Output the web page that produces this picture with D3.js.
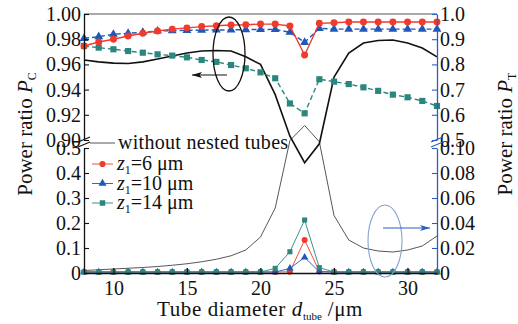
<!DOCTYPE html>
<html>
<head>
<meta charset="utf-8">
<script src="https://cdn.jsdelivr.net/npm/d3@7"></script>
<style>
  body { margin: 0; background: #fff; }
  svg { display: block; font-family: "Liberation Serif", "Times New Roman", serif; }
</style>
</head>
<body>
<svg width="518" height="324"></svg>
<script>

// valores
const tubeDiam = [8, 9, 10, 11, 12, 13, 14, 15, 16, 17, 18, 19, 20, 21, 22, 23, 24, 25, 26, 27, 28, 29, 30, 31, 32];

// painel de cima, P_C (eixo esquerdo)
const pcNone = [0.9635, 0.962, 0.961, 0.9607, 0.962, 0.9643, 0.9667, 0.969, 0.9706, 0.971, 0.9706, 0.966, 0.960, 0.936, 0.903, 0.882, 0.897, 0.950, 0.969, 0.977, 0.979, 0.9794, 0.977, 0.973, 0.966];
const pcZ6 = [0.9746, 0.9778, 0.980, 0.9825, 0.9847, 0.9865, 0.988, 0.989, 0.990, 0.9907, 0.9913, 0.9915, 0.992, 0.992, 0.9905, 0.9675, 0.9926, 0.993, 0.9937, 0.9937, 0.9937, 0.9937, 0.9937, 0.9937, 0.9937];
const pcZ10 = [0.9807, 0.982, 0.9839, 0.9847, 0.9855, 0.9865, 0.9868, 0.987, 0.9872, 0.9873, 0.9874, 0.9876, 0.9877, 0.9878, 0.9855, 0.9775, 0.9886, 0.988, 0.988, 0.988, 0.988, 0.988, 0.988, 0.988, 0.988];
const pcZ14 = [0.9746, 0.9733, 0.972, 0.9706, 0.9693, 0.968, 0.967, 0.9656, 0.9635, 0.962, 0.9595, 0.9569, 0.9537, 0.949, 0.929, 0.9212, 0.9482, 0.9463, 0.9444, 0.9418, 0.939, 0.936, 0.9339, 0.931, 0.927];

// painel de baixo, P_T (eixo direito)
const ptNone = [0.002, 0.0026, 0.0032, 0.0038, 0.0044, 0.0052, 0.0062, 0.0074, 0.009, 0.011, 0.0138, 0.0184, 0.0288, 0.052, 0.106, 0.118, 0.105, 0.046, 0.0264, 0.02, 0.0176, 0.0168, 0.0184, 0.0216, 0.0296];
const ptZ6 = [0.0008, 0.0008, 0.0008, 0.0008, 0.0008, 0.0008, 0.0008, 0.0008, 0.0008, 0.0008, 0.0008, 0.0008, 0.0008, 0.0008, 0.001, 0.0264, 0.0012, 0.0008, 0.0008, 0.0008, 0.0008, 0.0008, 0.0008, 0.0008, 0.0008];
const ptZ10 = [0.0008, 0.0008, 0.0008, 0.0008, 0.0008, 0.0008, 0.0008, 0.0008, 0.0008, 0.0008, 0.0008, 0.0008, 0.0008, 0.0008, 0.0037, 0.0125, 0.001, 0.0008, 0.0008, 0.0008, 0.0008, 0.0008, 0.0008, 0.0008, 0.0008];
const ptZ14 = [0.0008, 0.0008, 0.0008, 0.0008, 0.0008, 0.0008, 0.0008, 0.0008, 0.0008, 0.0008, 0.0008, 0.0008, 0.0008, 0.0037, 0.017, 0.0424, 0.0043, 0.0008, 0.0008, 0.0008, 0.0008, 0.0008, 0.0008, 0.0008, 0.0008];

// ticks
const ticksX = [10, 15, 20, 25, 30];
const ticksPcTop = [0.90, 0.92, 0.94, 0.96, 0.98, 1.00];
const ticksPcBot = [0, 0.1, 0.2, 0.3, 0.4, 0.5];
const ticksPtTop = [0.5, 0.6, 0.7, 0.8, 0.9, 1.0];
const ticksPtBot = [0, 0.02, 0.04, 0.06, 0.08, 0.10];

const legendLabels = ["6", "10", "14"];

const vis = {

    sels : {
        svg : d3.select("svg")
    },

    params : {
        left : 84,
        right : 437,
        top : 14,
        topBottom : 140,
        botTop : 148,
        bottom : 273,
        colors : {
            red : "#ef3b2c",
            blue : "#1e58b8",
            teal : "#2b877d",
            axisR : "#2a5fc0",
            ellipse : "#86a3cf"
        },
        font : 20,
        fontTitle : 21
    },

    scales : {},

    utils : {

        fmt : function(spec) {
            return d => d === 0 ? "0" : d3.format(spec)(d);
        },

        pairs : function(values) {
            return tubeDiam.map((d, i) => [d, values[i]]);
        },

        draw_axis : function(gen, ticks, spec, tx, ty, color) {
            const p = vis.params;
            const g = vis.sels.svg.append("g")
              .attr("transform", `translate(${tx},${ty})`)
              .call(gen.tickValues(ticks).tickFormat(vis.utils.fmt(spec)).tickSizeInner(-5).tickSizeOuter(0).tickPadding(3));
            g.attr("font-family", null);
            g.select(".domain").attr("stroke", color).attr("stroke-width", 1.3);
            g.selectAll(".tick line").attr("stroke", color).attr("stroke-width", 1.1);
            g.selectAll(".tick text").attr("fill", "#111").attr("font-size", p.font);
            return g;
        }

    },

    render : {

        scales : function() {
            const p = vis.params;
            vis.scales.x = d3.scaleLinear().domain([8, 32]).range([p.left, p.right]);
            vis.scales.pcTop = d3.scaleLinear().domain([0.90, 1.00]).range([p.topBottom, p.top]);
            vis.scales.pcBot = d3.scaleLinear().domain([0, 0.5]).range([p.bottom, p.botTop]);
            vis.scales.ptTop = d3.scaleLinear().domain([0.5, 1.0]).range([p.topBottom, p.top]);
            vis.scales.ptBot = d3.scaleLinear().domain([0, 0.10]).range([p.bottom, p.botTop]);
        },

        axes : function() {
            const s = vis.scales, p = vis.params, svg = vis.sels.svg;

            // moldura de cima
            svg.append("line")
              .attr("x1", p.left).attr("x2", p.right)
              .attr("y1", p.top).attr("y2", p.top)
              .attr("stroke", "#555").attr("stroke-width", 1.2);

            vis.utils.draw_axis(d3.axisLeft(s.pcTop), ticksPcTop, ".2f", p.left, 0, "#111");
            vis.utils.draw_axis(d3.axisLeft(s.pcBot), ticksPcBot, ".1f", p.left, 0, "#111");
            vis.utils.draw_axis(d3.axisRight(s.ptTop), ticksPtTop, ".1f", p.right, 0, p.colors.axisR);
            vis.utils.draw_axis(d3.axisRight(s.ptBot), ticksPtBot, ".2f", p.right, 0, p.colors.axisR);

            const gx = vis.utils.draw_axis(d3.axisBottom(s.x), ticksX, "d", 0, p.bottom, "#111");
            gx.selectAll(".tick text").attr("y", 8);

            // quebras dos eixos
            [[p.left, "#111"], [p.right, p.colors.axisR]].forEach(([x, c]) => {
                [0, 5].forEach(off => {
                    svg.append("line")
                      .attr("x1", x - 6).attr("y1", 142 + off)
                      .attr("x2", x + 6).attr("y2", 137 + off)
                      .attr("stroke", c).attr("stroke-width", 1.1);
                });
            });
        },

        titles : function() {
            const svg = vis.sels.svg, f = vis.params.fontTitle;

            const yl = svg.append("text")
              .attr("transform", "translate(32,134) rotate(-90)")
              .attr("text-anchor", "middle").attr("font-size", f).attr("fill", "#111");
            yl.append("tspan").text("Power ratio ");
            yl.append("tspan").attr("font-style", "italic").text("P");
            yl.append("tspan").attr("font-size", 12).attr("dy", 4).text("C");

            const yr = svg.append("text")
              .attr("transform", "translate(512,134) rotate(-90)")
              .attr("text-anchor", "middle").attr("font-size", f).attr("fill", "#111");
            yr.append("tspan").text("Power ratio ");
            yr.append("tspan").attr("font-style", "italic").text("P");
            yr.append("tspan").attr("font-size", 12).attr("dy", 4).text("T");

            const xt = svg.append("text")
              .attr("x", 260).attr("y", 316)
              .attr("text-anchor", "middle").attr("font-size", f)
              .attr("letter-spacing", 0.6).attr("fill", "#111");
            xt.append("tspan").text("Tube diameter ");
            xt.append("tspan").attr("font-style", "italic").text("d");
            xt.append("tspan").attr("font-size", 11).attr("letter-spacing", 0).attr("dy", 4).text("tube");
            xt.append("tspan").attr("dy", -4).text(" /\u03bcm");
        },

        series : function(values, yScale, color, width, dash, symbol, size) {
            const s = vis.scales, svg = vis.sels.svg;
            const pts = vis.utils.pairs(values);
            svg.append("path")
              .datum(pts)
              .attr("fill", "none")
              .attr("stroke", color)
              .attr("stroke-width", width)
              .attr("stroke-dasharray", dash)
              .attr("d", d3.line().x(d => s.x(d[0])).y(d => yScale(d[1])));
            if (symbol) {
                svg.append("g").selectAll("path")
                  .data(pts)
                  .join("path")
                  .attr("transform", d => `translate(${s.x(d[0])},${yScale(d[1])})`)
                  .attr("d", d3.symbol(symbol, size))
                  .attr("fill", color);
            }
        },

        lines : function() {
            const s = vis.scales, c = vis.params.colors, r = vis.render;

            // painel de baixo
            r.series(ptNone, s.ptBot, "#444", 0.9, null, null, 0);
            r.series(ptZ6, s.ptBot, c.red, 0.9, null, d3.symbolCircle, 28);
            r.series(ptZ10, s.ptBot, c.blue, 0.9, null, d3.symbolTriangle, 24);
            r.series(ptZ14, s.ptBot, c.teal, 0.9, null, d3.symbolSquare, 26);

            // painel de cima
            r.series(pcNone, s.pcTop, "#111", 1.6, null, null, 0);
            r.series(pcZ14, s.pcTop, c.teal, 1.4, "5,3", d3.symbolSquare, 38);
            r.series(pcZ10, s.pcTop, c.blue, 1.4, "5,3", d3.symbolTriangle, 34);
            r.series(pcZ6, s.pcTop, c.red, 1.4, null, d3.symbolCircle, 38);
        },

        legend : function() {
            const svg = vis.sels.svg, c = vis.params.colors, f = vis.params.font;

            svg.append("line")
              .attr("x1", 90).attr("x2", 115).attr("y1", 143).attr("y2", 143)
              .attr("stroke", "#444").attr("stroke-width", 0.9);
            svg.append("text")
              .attr("x", 118).attr("y", 149).attr("font-size", f)
              .attr("letter-spacing", 0.3).attr("fill", "#111")
              .text("without nested tubes");

            const items = [[c.red, d3.symbolCircle, 30], [c.blue, d3.symbolTriangle, 28], [c.teal, d3.symbolSquare, 30]];
            items.forEach(([col, sym, size], i) => {
                const y = 164 + i * 19.5;
                svg.append("line")
                  .attr("x1", 92).attr("x2", 113).attr("y1", y).attr("y2", y)
                  .attr("stroke", col).attr("stroke-width", 0.9);
                svg.append("path")
                  .attr("transform", `translate(102.5,${y})`)
                  .attr("d", d3.symbol(sym, size))
                  .attr("fill", col);
                const t = svg.append("text")
                  .attr("x", 117).attr("y", y + 6).attr("font-size", f).attr("fill", "#111");
                t.append("tspan").attr("font-style", "italic").text("z");
                t.append("tspan").attr("font-size", 12).attr("dy", 4).text("1");
                t.append("tspan").attr("dy", -4).text("=" + legendLabels[i] + " \u03bcm");
            });
        },

        notes : function() {
            const svg = vis.sels.svg, c = vis.params.colors;
            const defs = svg.append("defs");
            [["arrK", "#111"], ["arrB", c.axisR]].forEach(([id, col]) => {
                defs.append("marker")
                  .attr("id", id).attr("viewBox", "0 0 10 6")
                  .attr("refX", 10).attr("refY", 3)
                  .attr("markerWidth", 10).attr("markerHeight", 6)
                  .attr("markerUnits", "userSpaceOnUse")
                  .attr("orient", "auto")
                  .append("path").attr("d", "M0,0 L10,3 L0,6 L2.5,3 Z").attr("fill", col);
            });

            svg.append("ellipse")
              .attr("cx", 229).attr("cy", 54).attr("rx", 16).attr("ry", 37)
              .attr("fill", "none").attr("stroke", "#111").attr("stroke-width", 1.3);
            svg.append("line")
              .attr("x1", 227).attr("y1", 75).attr("x2", 192).attr("y2", 75)
              .attr("stroke", "#111").attr("stroke-width", 1.2)
              .attr("marker-end", "url(#arrK)");

            svg.append("ellipse")
              .attr("cx", 385).attr("cy", 241).attr("rx", 17).attr("ry", 36)
              .attr("fill", "none").attr("stroke", c.ellipse).attr("stroke-width", 1.1);
            svg.append("line")
              .attr("x1", 383).attr("y1", 228).attr("x2", 430).attr("y2", 228)
              .attr("stroke", c.axisR).attr("stroke-width", 1.2)
              .attr("marker-end", "url(#arrB)");
        }

    },

    control : {

        init : function() {
            vis.render.scales();
            vis.render.lines();
            vis.render.axes();
            vis.render.legend();
            vis.render.notes();
            vis.render.titles();
        }

    }

};

vis.control.init();
</script>
</body>
</html>
